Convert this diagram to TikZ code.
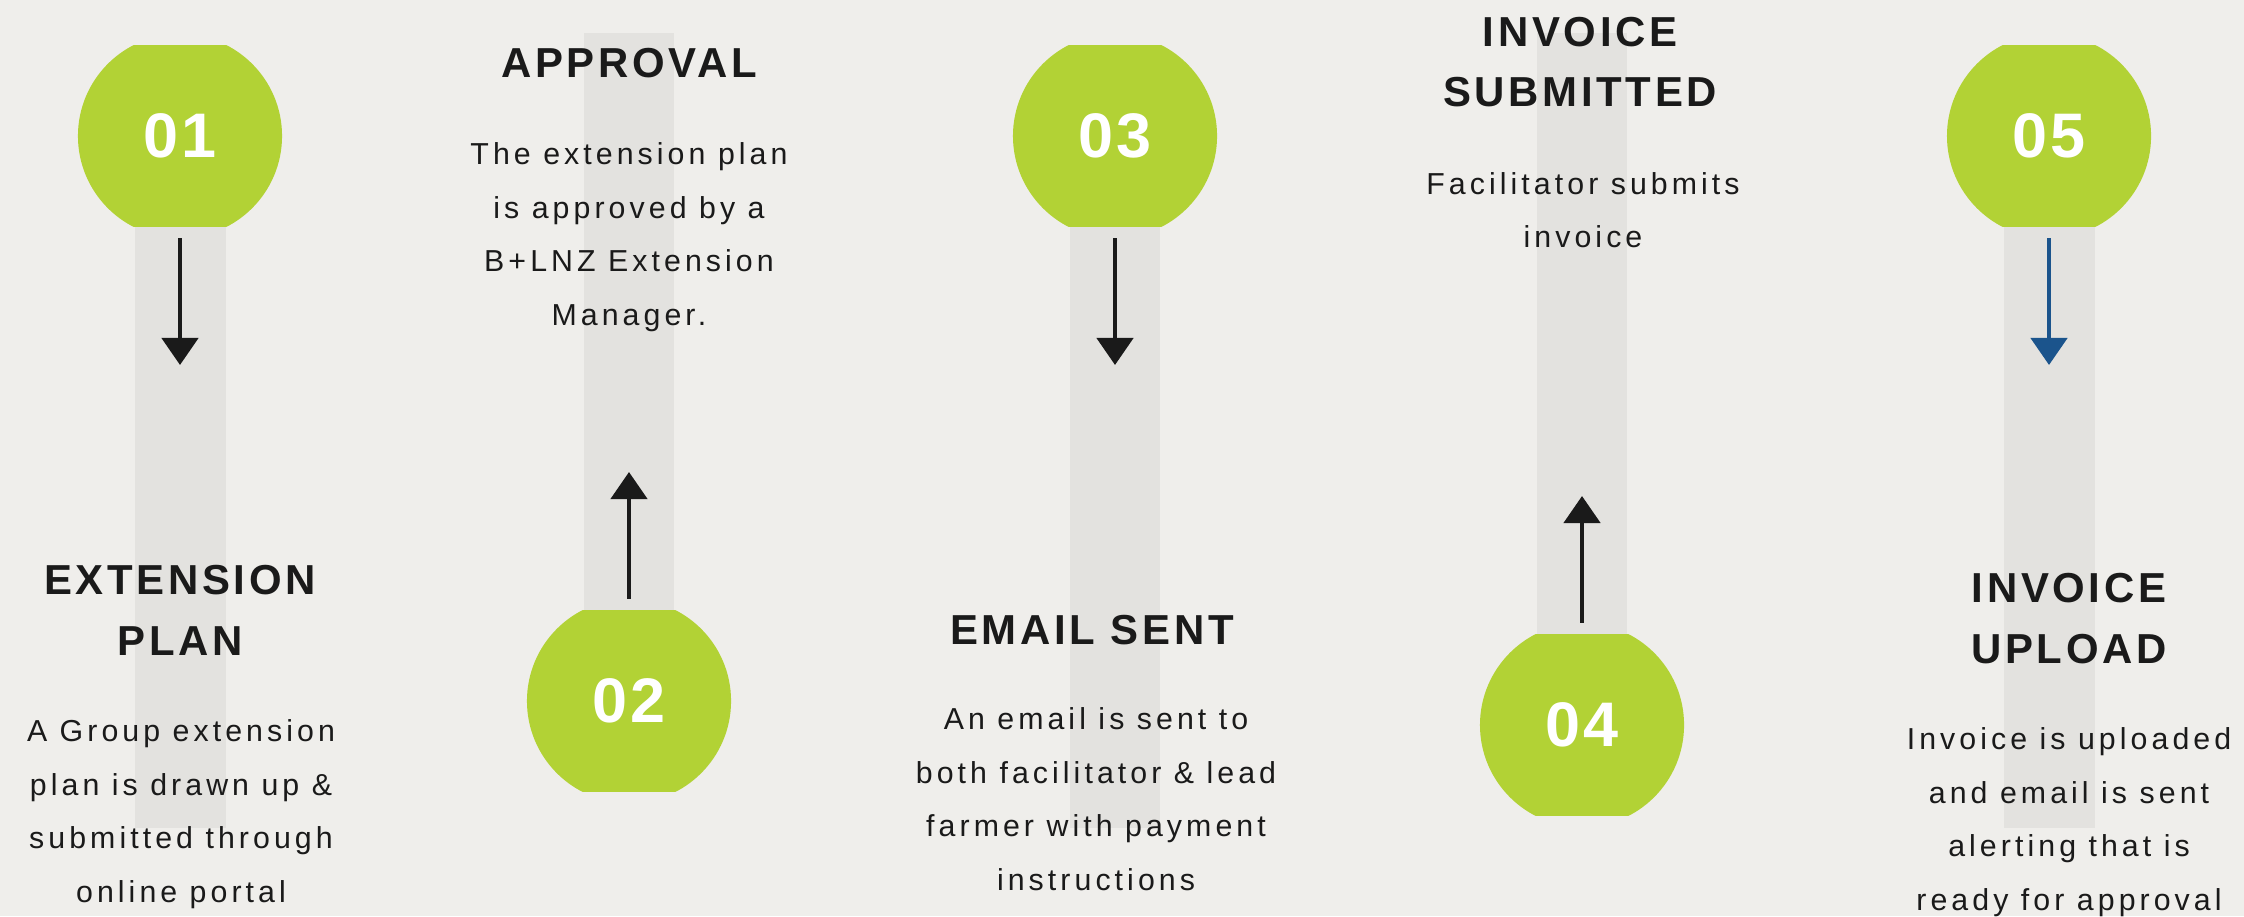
\documentclass[tikz,border=0pt]{standalone}
\usepackage{fontspec}
\setmainfont{Liberation Sans}
\newfontfamily\titlefont[LetterSpace=8.8]{Liberation Sans}
\newfontfamily\bodyfont[LetterSpace=13.4]{Liberation Sans}
\newfontfamily\numfont[LetterSpace=5]{Liberation Sans}
\usetikzlibrary{arrows.meta}
\definecolor{pagebg}{HTML}{EFEEEB}
\definecolor{barbg}{HTML}{E3E2DF}
\definecolor{stepgreen}{HTML}{B2D235}
\definecolor{inkdark}{HTML}{1A1A1A}
\definecolor{arrowblue}{HTML}{1B548C}

\begin{document}
\begin{tikzpicture}[
    bar/.style={fill=barbg},
    stepcircle/.style={circle,minimum size=2.04cm,inner sep=0pt,outer sep=0pt,
      text=white,font=\numfont\bfseries\fontsize{17.9}{20}\selectfont,
      path picture={\fill[stepgreen]
        ([shift={(-1.1cm,-0.91cm)}]path picture bounding box.center) rectangle
        ([shift={(1.1cm,0.91cm)}]path picture bounding box.center);}},
    steptitle/.style={align=center,anchor=base,inner sep=0pt,text=inkdark,
      font=\titlefont\bfseries\fontsize{11.92}{17.07}\selectfont},
    stepbody/.style={align=center,anchor=base,inner sep=0pt,text=inkdark,
      font=\bodyfont\fontsize{8.62}{15.17}\selectfont},
    steparrow/.style={line width=1.28pt,-{Triangle[width=0.36cm,length=0.27cm]}}]

  \def\f{*0.01}

  \useasboundingbox (0,0) rectangle (2244\f,-916\f);
  \fill[pagebg] (0,0) rectangle (2244\f,-916\f);

  \fill[bar] (135\f,-136\f) rectangle (226\f,-828\f);
  \fill[bar] (584\f,-33\f) rectangle (674\f,-701\f);
  \fill[bar] (1070\f,-136\f) rectangle (1160\f,-828\f);
  \fill[bar] (1537\f,-33\f) rectangle (1627\f,-725\f);
  \fill[bar] (2004\f,-136\f) rectangle (2095\f,-828\f);

  \node[stepcircle] (c1) at (180\f,-136\f) {01};
  \node[stepcircle] (c2) at (629\f,-701\f) {02};
  \node[stepcircle] (c3) at (1115\f,-136\f) {03};
  \node[stepcircle] (c4) at (1582\f,-725\f) {04};
  \node[stepcircle] (c5) at (2049\f,-136\f) {05};

  \coordinate (t1) at (180\f,-365\f);
  \coordinate (t2) at (629\f,-472\f);
  \coordinate (t3) at (1115\f,-365\f);
  \coordinate (t4) at (1582\f,-496\f);
  \coordinate (t5) at (2049\f,-365\f);

  \draw[steparrow,inkdark] (c1.south) -- (t1);
  \draw[steparrow,inkdark] (c2.north) -- (t2);
  \draw[steparrow,inkdark] (c3.south) -- (t3);
  \draw[steparrow,inkdark] (c4.north) -- (t4);
  \draw[steparrow,arrowblue] (c5.south) -- (t5);

  \node[steptitle] (h1) at (180\f,-655\f) {EXTENSION\\PLAN};
  \node[steptitle] (h2) at (629\f,-78\f) {APPROVAL};
  \node[steptitle] (h3) at (1092\f,-644\f) {EMAIL SENT};
  \node[steptitle] (h4) at (1580\f,-107\f) {INVOICE\\SUBMITTED};
  \node[steptitle] (h5) at (2069\f,-663\f) {INVOICE\\UPLOAD};

  \node[stepbody] (b1) at (181\f,-902\f)
    {A Group extension\\plan is drawn up \&\\submitted through\\online portal};
  \node[stepbody] (b2) at (629\f,-325\f)
    {The extension plan\\is approved by a\\B+LNZ Extension\\Manager.};
  \node[stepbody] (b3) at (1096\f,-890\f)
    {An email is sent to\\both facilitator \& lead\\farmer with payment\\instructions};
  \node[stepbody] (b4) at (1583\f,-248\f)
    {Facilitator submits\\invoice};
  \node[stepbody] (b5) at (2069\f,-910\f)
    {Invoice is uploaded\\and email is sent\\alerting that is\\ready for approval};
\end{tikzpicture}
\end{document}
